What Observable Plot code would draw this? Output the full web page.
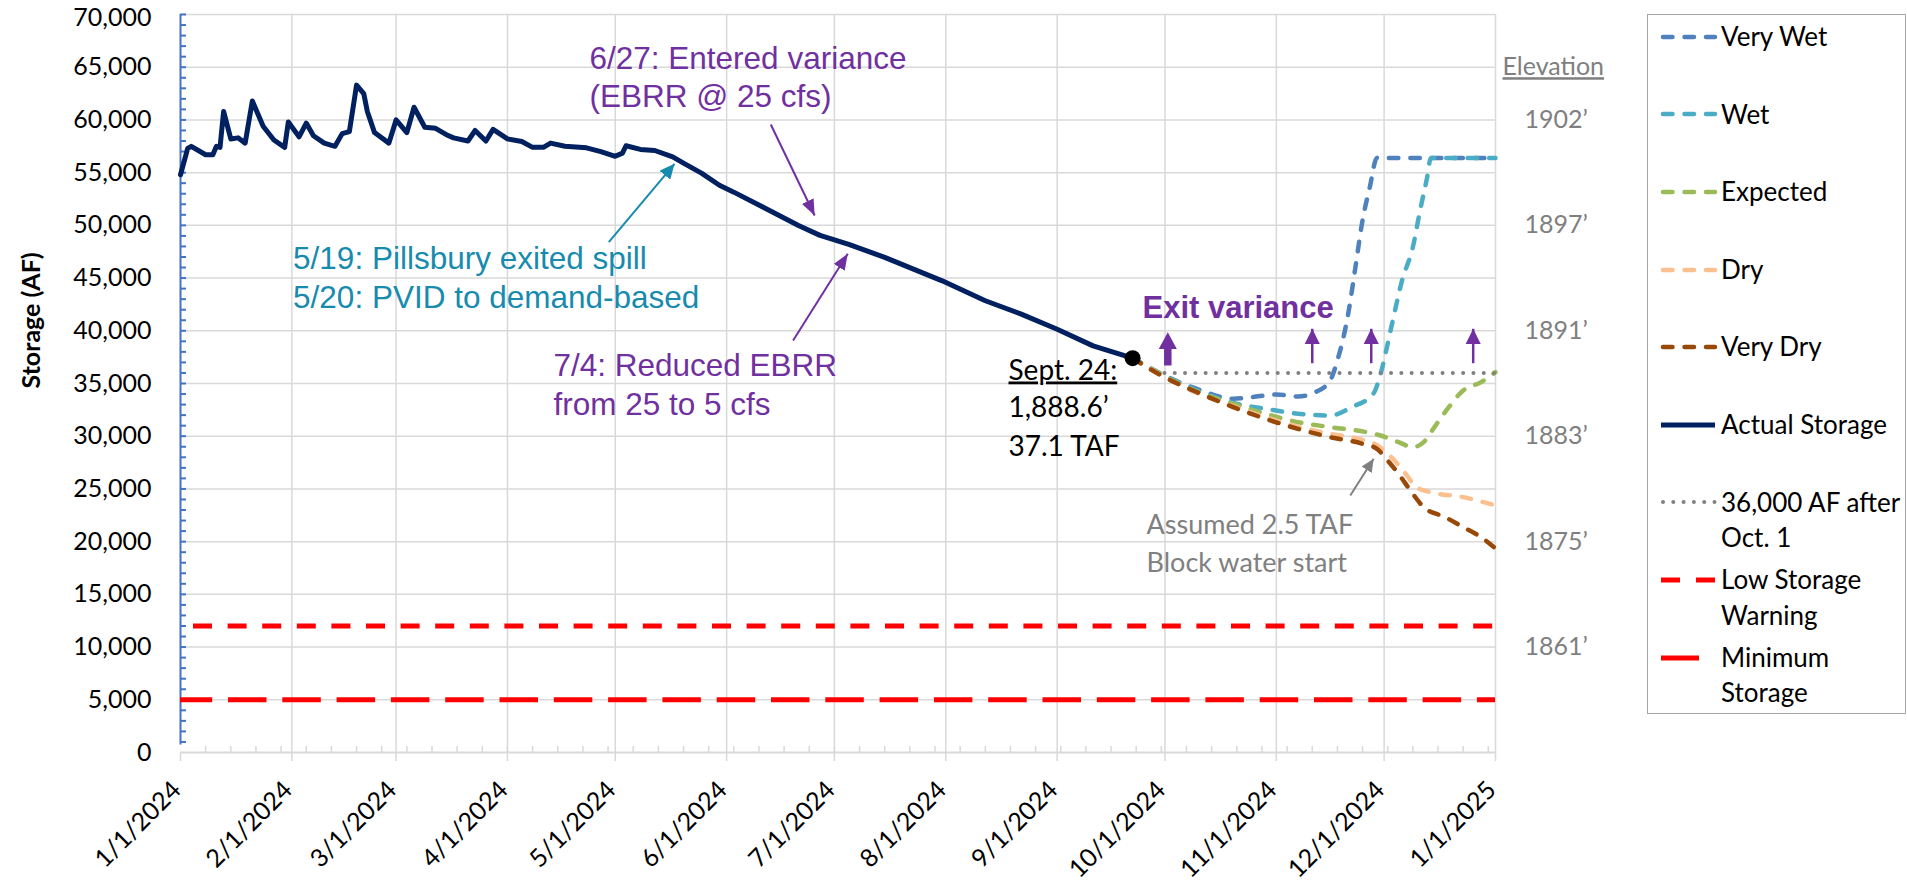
<!DOCTYPE html>
<html>
<head>
<meta charset="utf-8">
<script src="https://cdn.jsdelivr.net/npm/d3@7"></script>
<script src="https://cdn.jsdelivr.net/npm/@observablehq/plot@0.6"></script>
<style>
  html, body { margin: 0; padding: 0; background: #fff; }
  #chart { position: relative; width: 1907px; height: 893px; overflow: hidden; background: #fff; }
  #legend { position: absolute; left: 1647px; top: 14px; width: 259px; height: 700px; box-sizing: border-box;
            border: 1.5px solid #a6a6a6; background: #fff; font-family: Lato, sans-serif; font-size: 26px; color: #000; }
  .lg-item { position: absolute; left: 0; right: 0; height: 0; }
  .lg-item svg { position: absolute; left: 12px; top: -7px; overflow: visible; }
  .lg-text { position: absolute; left: 73px; top: -17.75px; line-height: 35.5px; white-space: pre; }
</style>
</head>
<body>
<div id="chart"></div>
<script>
// ---------------- data ----------------
const xTickLabels = ["1/1/2024","2/1/2024","3/1/2024","4/1/2024","5/1/2024","6/1/2024","7/1/2024",
                     "8/1/2024","9/1/2024","10/1/2024","11/1/2024","12/1/2024","1/1/2025"];
const yTickLabels = ["0","5,000","10,000","15,000","20,000","25,000","30,000","35,000",
                     "40,000","45,000","50,000","55,000","60,000","65,000","70,000"];
const elevationLabels = ["1902\u2019","1897\u2019","1891\u2019","1883\u2019","1875\u2019","1861\u2019"];
const elevationStorage = [60000, 50000, 40000, 30000, 20000, 10000];

const actualDates = ["2024-01-01","2024-01-03","2024-01-04","2024-01-08","2024-01-10","2024-01-11","2024-01-12",
  "2024-01-13","2024-01-15","2024-01-17","2024-01-19","2024-01-21","2024-01-24","2024-01-27","2024-01-30",
  "2024-01-31","2024-02-03","2024-02-05","2024-02-07","2024-02-10","2024-02-13","2024-02-15","2024-02-17",
  "2024-02-19","2024-02-21","2024-02-22","2024-02-24","2024-02-28","2024-03-01","2024-03-04","2024-03-06",
  "2024-03-09","2024-03-12","2024-03-15","2024-03-17","2024-03-21","2024-03-23","2024-03-26","2024-03-28",
  "2024-04-01","2024-04-05","2024-04-08","2024-04-11","2024-04-13","2024-04-17","2024-04-23","2024-04-27",
  "2024-05-01","2024-05-03","2024-05-04","2024-05-08","2024-05-12","2024-05-17","2024-05-20","2024-05-25",
  "2024-05-30","2024-06-03","2024-06-12","2024-06-21","2024-06-27","2024-07-05","2024-07-15","2024-07-31",
  "2024-08-12","2024-08-22","2024-09-01","2024-09-11","2024-09-22"];
const actualValues = [54800,57300,57500,56700,56700,57500,57400,
  60800,58200,58300,57800,61800,59400,58100,57400,
  59800,58400,59700,58500,57800,57500,58700,58900,
  63300,62500,60800,58800,57800,60000,58800,61200,
  59300,59200,58600,58300,58000,59000,58000,59100,
  58200,57950,57400,57400,57800,57500,57350,57000,
  56550,56850,57550,57200,57100,56500,55900,54950,
  53800,53150,51580,49990,49050,48200,46960,44740,
  42850,41580,40150,38570,37400];

const veryWetDates = ["2024-09-22","2024-09-30","2024-10-11","2024-10-20","2024-10-25","2024-11-01","2024-11-07",
  "2024-11-12","2024-11-16","2024-11-18","2024-11-21","2024-11-23","2024-11-25","2024-11-27","2024-11-29","2025-01-01"];
const veryWetValues = [37400,35900,34350,33550,33700,33950,33770,34200,35300,37200,41600,46000,50500,53600,56400,56400];

const wetDates = ["2024-09-22","2024-09-30","2024-10-11","2024-10-20","2024-10-29","2024-11-07","2024-11-16",
  "2024-11-22","2024-11-28","2024-11-30","2024-12-03","2024-12-06","2024-12-09","2024-12-11","2024-12-13","2024-12-14","2025-01-01"];
const wetValues = [37400,35900,34200,33150,32600,32130,31970,32760,34030,35900,40350,44780,47940,51400,54600,56400,56400];

const expectedDates = ["2024-09-22","2024-09-30","2024-10-11","2024-10-20","2024-10-29","2024-11-07","2024-11-16",
  "2024-11-26","2024-11-30","2024-12-05","2024-12-09","2024-12-12","2024-12-15","2024-12-19","2024-12-23","2024-12-28","2025-01-01"];
const expectedValues = [37400,35850,34100,33070,32125,31335,30860,30390,30070,29440,28960,29440,30860,32760,34340,35130,36080];

const dryDates = ["2024-09-22","2024-09-30","2024-10-11","2024-10-20","2024-10-29","2024-11-07","2024-11-16",
  "2024-11-25","2024-11-29","2024-12-03","2024-12-07","2024-12-10","2024-12-14","2024-12-23","2025-01-01"];
const dryValues = [37400,35800,33950,32850,31800,30900,30230,29650,29150,28010,26430,25170,24690,24220,23430];

const veryDryDates = ["2024-09-22","2024-09-30","2024-10-11","2024-10-20","2024-10-29","2024-11-07","2024-11-16",
  "2024-11-25","2024-11-29","2024-12-02","2024-12-05","2024-12-09","2024-12-12","2024-12-18","2024-12-23","2024-12-28","2025-01-01"];
const veryDryValues = [37400,35760,34020,32760,31650,30700,29910,29280,28800,27690,26430,24530,23270,22320,21370,20420,19350];

const targetStorage = 36000, targetStart = "2024-10-01";
const lowStorageWarning = 12000;
const minimumStorage = 5000;

const legendLabels = ["Very Wet","Wet","Expected","Dry","Very Dry","Actual Storage",
                      "36,000 AF after\nOct. 1","Low Storage\nWarning","Minimum\nStorage"];

// ---------------- helpers ----------------
const toDate = s => new Date(s.length === 10 ? s + "T00:00:00Z" : s);
const series = (dates, values) => dates.map((d, i) => ({date: toDate(d), value: values[i]}));
const parseTick = s => { const [m, d, y] = s.split("/").map(Number); return new Date(Date.UTC(y, m - 1, d)); };
const xTickDates = xTickLabels.map(parseTick);
const yTickValues = yTickLabels.map(s => +s.replace(/,/g, ""));
const yLabelByValue = new Map(yTickValues.map((v, i) => [v, yTickLabels[i]]));
const yMax = d3.max(yTickValues);
const x0 = xTickDates[0], x1 = xTickDates[xTickDates.length - 1];
const weeklyTicks = d3.range(7, 366, 7).map(k => d3.utcDay.offset(x0, k));
const actual = series(actualDates, actualValues);
const last = actual[actual.length - 1];

const C = {
  veryWet: "#4f81bd", wet: "#4bacc6", expected: "#9bbb59", dry: "#fac090", veryDry: "#984807",
  actual: "#002060", target: "#808080", red: "#ff0000", grid: "#d9d9d9", axisBlue: "#4472c4",
  teal: "#178bad", purple: "#7030a0", gray: "#808080", elev: "#7f7f7f"
};
const ARIAL = "'Liberation Sans', Arial, sans-serif";
const DASH = "9.5,12";

// filled triangular arrow head marker
function headMarker(w, l, tipAtEnd = true) {
  return (color) => {
    const m = d3.create("svg:marker")
      .attr("viewBox", `0 ${-w / 2} ${l} ${w}`)
      .attr("markerUnits", "userSpaceOnUse")
      .attr("markerWidth", l).attr("markerHeight", w)
      .attr("refX", tipAtEnd ? l : 0).attr("refY", 0)
      .attr("orient", "auto");
    m.append("path").attr("d", `M0,${-w / 2}L${l},0L0,${w / 2}Z`).attr("fill", color).attr("stroke", "none");
    return m.node();
  };
}
const link = (items, o) => Plot.link(items, {x1: d => toDate(d.from), y1: "v1", x2: d => toDate(d.to), y2: "v2", ...o});
const note = (items, o) => Plot.text(items, {x: d => toDate(d.at), y: "v", text: "t", textAnchor: "start", ...o});

const scenario = (dates, values, color) =>
  Plot.line(series(dates, values), {x: "date", y: "value", stroke: color, strokeWidth: 4.5,
    strokeDasharray: DASH, strokeLinecap: "round", curve: "monotone-x"});

// ---------------- plot ----------------
const plot = Plot.plot({
  width: 1907, height: 893,
  marginLeft: 180, marginRight: 412, marginTop: 14, marginBottom: 141,
  style: {fontFamily: "Lato, sans-serif", fontSize: "25px", background: "#fff", color: "#000"},
  x: {type: "utc", domain: [x0, x1]},
  y: {domain: [0, yMax]},
  marks: [
    Plot.ruleY(yTickValues.filter(v => v > 0), {stroke: C.grid, strokeWidth: 1.5}),
    Plot.ruleX(xTickDates.slice(1), {stroke: C.grid, strokeWidth: 1.5}),
    Plot.axisX({ticks: weeklyTicks, tickSize: -6, tickFormat: () => "", stroke: C.grid, strokeWidth: 1.5, label: null}),
    Plot.axisX({ticks: xTickDates, tickSize: 9, tickFormat: () => "", stroke: C.grid, strokeWidth: 1.5, label: null}),
    Plot.ruleX([x0], {y1: 700, y2: yMax, stroke: C.axisBlue, strokeWidth: 2}),
    Plot.axisY({ticks: d3.range(1000, yMax + 1, 1000), tickSize: -6, tickFormat: () => "", stroke: C.axisBlue, strokeWidth: 2, label: null}),
    Plot.ruleY([0], {stroke: C.grid, strokeWidth: 2}),
    Plot.axisY({ticks: yTickValues.filter(v => v < yMax), tickSize: 0, tickPadding: 29, tickFormat: v => yLabelByValue.get(v), label: null, fill: "#000"}),
    Plot.axisY({ticks: [yMax], tickSize: 0, tickPadding: 29, tickFormat: v => yLabelByValue.get(v), label: null, fill: "#000", dy: 3}),
    Plot.text(xTickDates, {x: d => d, frameAnchor: "bottom", text: (d, i) => xTickLabels[i], rotate: -45,
      textAnchor: "end", dx: 2, dy: 39, fill: "#000"}),
    Plot.text(["Storage (AF)"], {frameAnchor: "left", text: d => d, rotate: -90, dx: -149, dy: 5,
      fontWeight: "bold", fill: "#000"}),
    // right-hand elevation labels
    Plot.text(elevationLabels, {x: () => x1, y: (d, i) => elevationStorage[i], text: d => d, textAnchor: "start",
      dx: 29, fill: C.elev}),
    Plot.text(["Elevation"], {x: () => x1, y: () => 65000, text: d => d, textAnchor: "start", dx: 7, fill: C.elev}),
    // storage thresholds
    Plot.ruleY([minimumStorage], {stroke: C.red, strokeWidth: 5, strokeDasharray: "38.5,15.8", strokeDashoffset: 6.3}),
    Plot.ruleY([lowStorageWarning], {stroke: C.red, strokeWidth: 5, strokeDasharray: "19,15.6", strokeDashoffset: 21.6}),
    // scenarios
    scenario(veryWetDates, veryWetValues, C.veryWet),
    scenario(wetDates, wetValues, C.wet),
    scenario(expectedDates, expectedValues, C.expected),
    scenario(dryDates, dryValues, C.dry),
    scenario(veryDryDates, veryDryValues, C.veryDry),
    Plot.line(actual, {x: "date", y: "value", stroke: C.actual, strokeWidth: 5, strokeLinejoin: "round"}),
    Plot.ruleY([targetStorage], {x1: toDate(targetStart), x2: x1, stroke: C.target, strokeWidth: 4,
      strokeDasharray: "0,10.3", strokeLinecap: "round"}),
    Plot.dot([last], {x: "date", y: "value", r: 8, fill: "#000"}),
    // annotations
    note([{t: "5/19: Pillsbury exited spill", at: "2024-02-01T08:00Z", v: 46850},
          {t: "5/20: PVID to demand-based", at: "2024-02-01T08:00Z", v: 43150}],
         {fill: C.teal, fontFamily: ARIAL, fontSize: 31.5}),
    link([{from: "2024-04-29T05:00Z", v1: 48400, to: "2024-05-17T12:00Z", v2: 55840}],
         {stroke: C.teal, strokeWidth: 2, markerEnd: headMarker(14, 15)}),
    note([{t: "6/27: Entered variance", at: "2024-04-23T20:00Z", v: 65800},
          {t: "(EBRR @ 25 cfs)", at: "2024-04-23T20:00Z", v: 62200}],
         {fill: C.purple, fontFamily: ARIAL, fontSize: 31.5}),
    link([{from: "2024-06-13T07:00Z", v1: 59570, to: "2024-06-25T12:00Z", v2: 50930}],
         {stroke: C.purple, strokeWidth: 2, markerEnd: headMarker(13, 16)}),
    note([{t: "7/4: Reduced EBRR", at: "2024-04-13T19:00Z", v: 36700},
          {t: "from 25 to 5 cfs", at: "2024-04-13T19:00Z", v: 33000}],
         {fill: C.purple, fontFamily: ARIAL, fontSize: 31.5}),
    link([{from: "2024-06-19T12:00Z", v1: 39080, to: "2024-07-04T17:00Z", v2: 47300}],
         {stroke: C.purple, strokeWidth: 2, markerEnd: headMarker(13, 16)}),
    note([{t: "Exit variance", at: "2024-09-24T18:00Z", v: 42200}],
         {fill: C.purple, fontFamily: ARIAL, fontSize: 31, fontWeight: "bold"}),
    link([{from: "2024-10-01T19:00Z", v1: 36710, to: "2024-10-01T19:00Z", v2: 38280}],
         {stroke: C.purple, strokeWidth: 7.5, markerEnd: headMarker(18, 16.7, false)}),
    link([{from: "2024-11-11T00:00Z", v1: 36925, to: "2024-11-11T00:00Z", v2: 40190},
          {from: "2024-11-27T10:00Z", v1: 36925, to: "2024-11-27T10:00Z", v2: 40190},
          {from: "2024-12-25T19:00Z", v1: 36925, to: "2024-12-25T19:00Z", v2: 40190}],
         {stroke: C.purple, strokeWidth: 2.5, markerEnd: headMarker(15.6, 15.7)}),
    note([{t: "Sept. 24:", at: "2024-08-18T11:00Z", v: 36230},
          {t: "1,888.6\u2019", at: "2024-08-18T11:00Z", v: 32630},
          {t: "37.1 TAF", at: "2024-08-18T11:00Z", v: 28930}],
         {fill: "#000", fontSize: 28}),
    note([{t: "Assumed 2.5 TAF", at: "2024-09-25T21:00Z", v: 21530},
          {t: "Block water start", at: "2024-09-25T21:00Z", v: 17930}],
         {fill: C.gray, fontSize: 27}),
    link([{from: "2024-11-21T14:00Z", v1: 24380, to: "2024-11-28T02:00Z", v2: 27860}],
         {stroke: C.gray, strokeWidth: 2, markerEnd: headMarker(12, 13)})
  ]
});

d3.select(plot).selectAll("text")
  .filter(function () { return this.textContent === "Elevation" || this.textContent === "Sept. 24:"; })
  .style("text-decoration", "underline");

const chart = document.getElementById("chart");
chart.appendChild(plot);

// ---------------- legend ----------------
const legendStyles = [
  {stroke: C.veryWet, w: 4.5, dash: DASH, cap: "round"},
  {stroke: C.wet, w: 4.5, dash: DASH, cap: "round"},
  {stroke: C.expected, w: 4.5, dash: DASH, cap: "round"},
  {stroke: C.dry, w: 4.5, dash: DASH, cap: "round"},
  {stroke: C.veryDry, w: 4.5, dash: DASH, cap: "round"},
  {stroke: C.actual, w: 5, dash: null, cap: "butt"},
  {stroke: C.target, w: 4, dash: "0,10.3", cap: "round"},
  {stroke: C.red, w: 5, dash: "19,16", cap: "butt"},
  {stroke: C.red, w: 5, dash: "38,100", cap: "butt"}
];
const legend = d3.select(chart).append("div").attr("id", "legend");
legendLabels.forEach((label, i) => {
  const st = legendStyles[i];
  const item = legend.append("div").attr("class", "lg-item").style("top", (21.8 + i * 77.6) + "px");
  const s = item.append("svg").attr("width", 58).attr("height", 14);
  s.append("line").attr("x1", st.cap === "round" ? 3 : 1).attr("x2", 55).attr("y1", 7).attr("y2", 7)
    .attr("stroke", st.stroke).attr("stroke-width", st.w)
    .attr("stroke-dasharray", st.dash).attr("stroke-linecap", st.cap);
  item.append("div").attr("class", "lg-text").text(label);
});
</script>
</body>
</html>
